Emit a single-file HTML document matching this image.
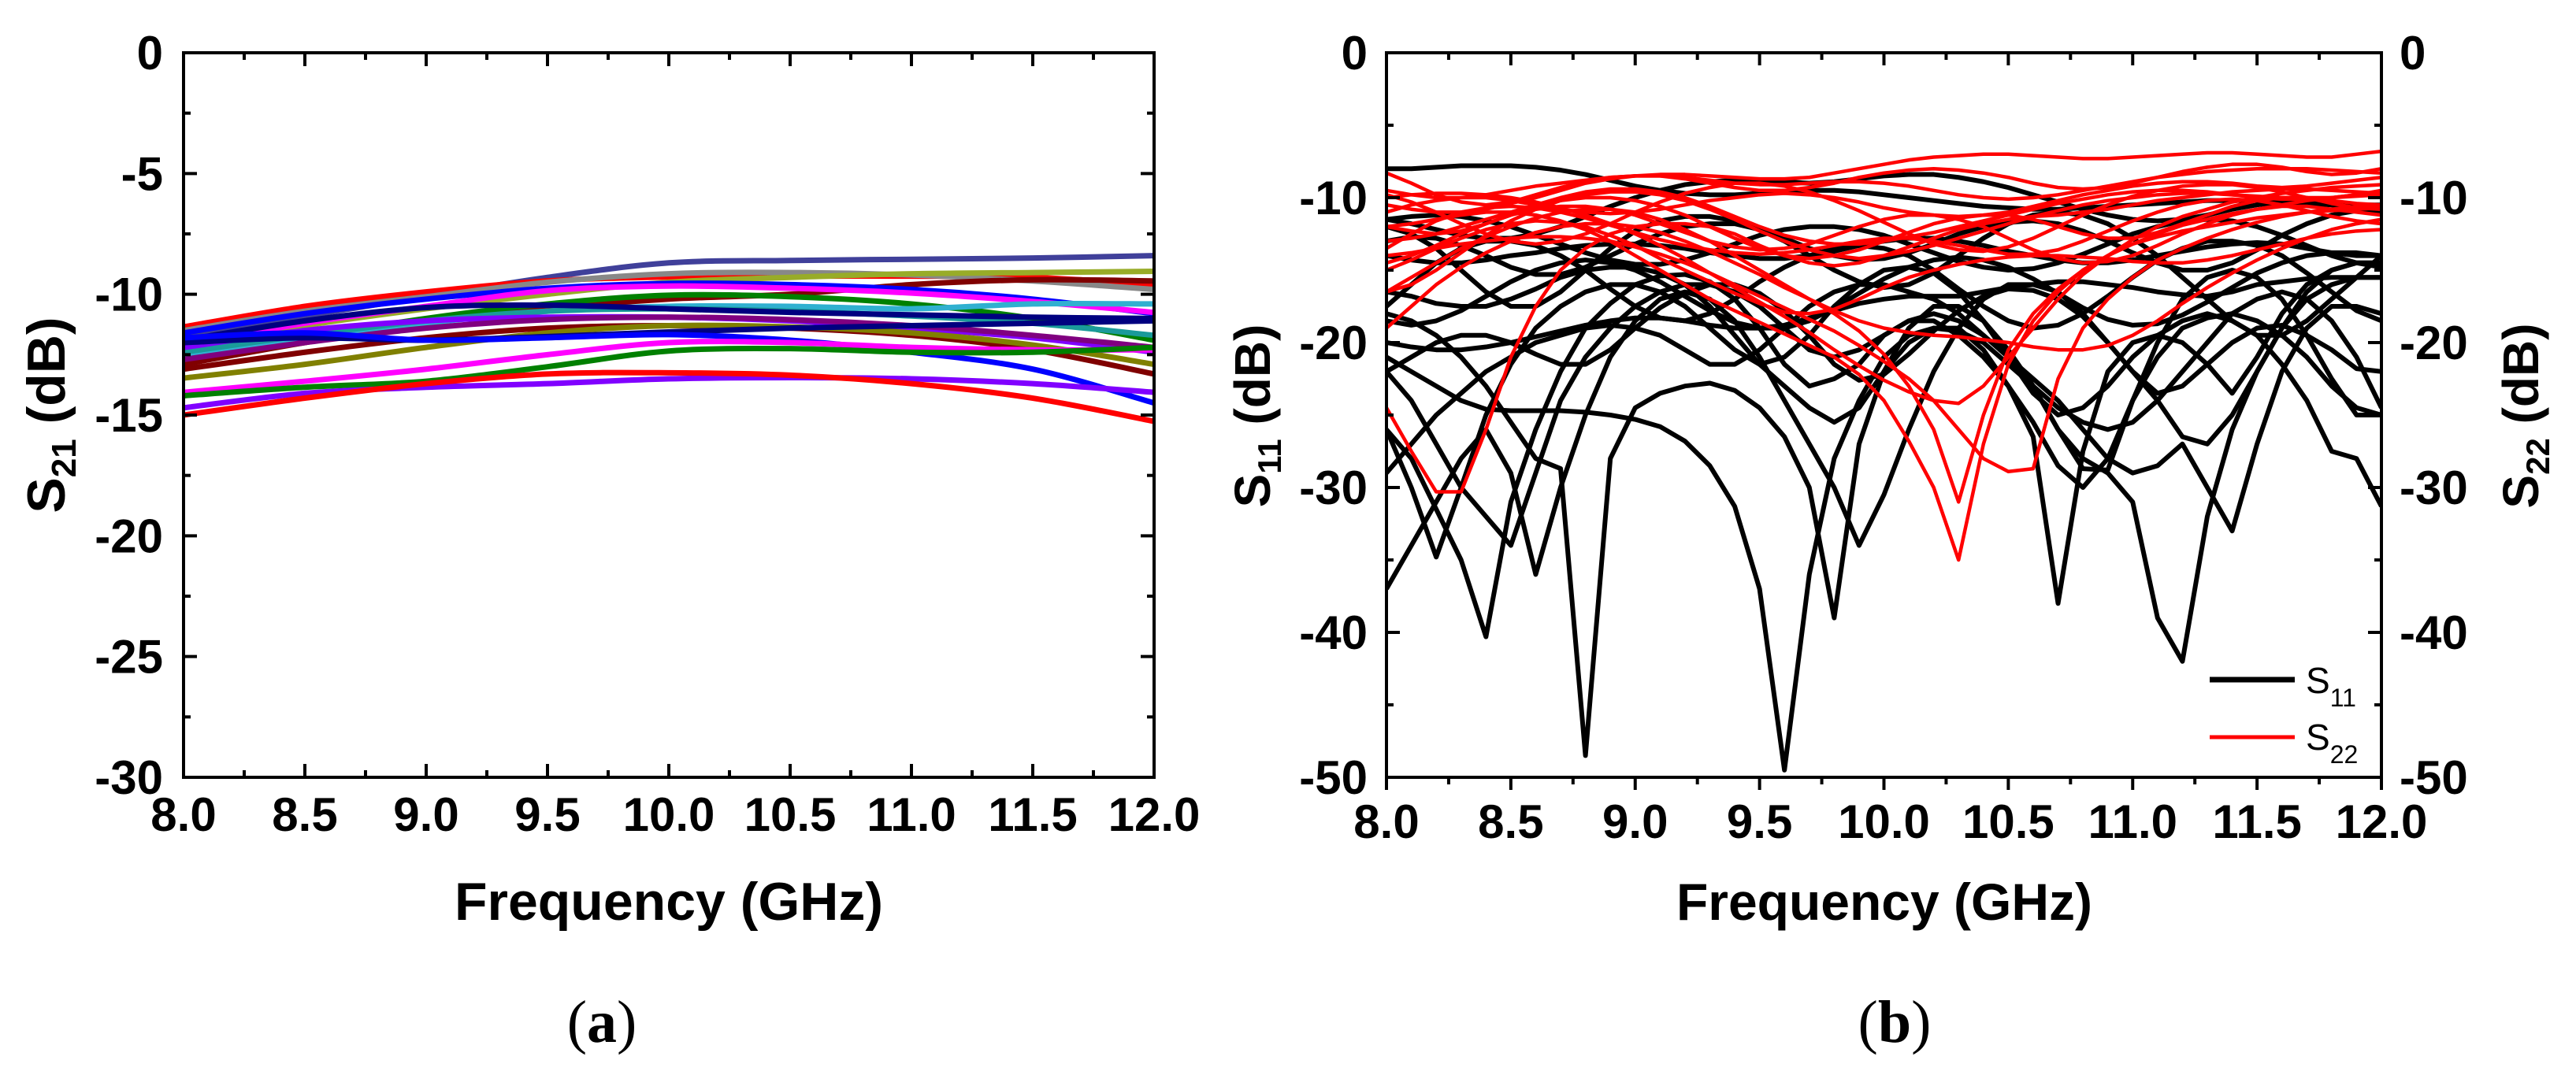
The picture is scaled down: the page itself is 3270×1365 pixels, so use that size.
<!DOCTYPE html>
<html><head><meta charset="utf-8"><style>
html,body{margin:0;padding:0;background:#fff;}
svg{display:block;}
text{font-family:"Liberation Sans",Arial,sans-serif;}
</style></head>
<body>
<svg id="fig" width="3270" height="1365" viewBox="0 0 3270 1365" xmlns="http://www.w3.org/2000/svg">
<g id="plotA"></g>
<g id="plotB"></g>
<text x="764" y="1323" text-anchor="middle" font-size="76" style="font-family:'Liberation Serif',serif">(<tspan font-weight="bold">a</tspan>)</text>
<text x="2405" y="1323" text-anchor="middle" font-size="76" style="font-family:'Liberation Serif',serif">(<tspan font-weight="bold">b</tspan>)</text>
</svg>
<script>
// ---------- Panel (a) data ----------
const freqA = [8.0, 8.5, 9.0, 9.5, 10.0, 10.5, 11.0, 11.5, 12.0];
const s21SlateBlue = [-11.7, -10.9, -10.1, -9.3, -8.7, -8.6, -8.55, -8.5, -8.4];
const s21RedTop = [-11.35, -10.5, -9.9, -9.45, -9.28, -9.25, -9.25, -9.3, -9.6];
const s21Gray = [-11.5, -10.7, -10.1, -9.5, -9.15, -9.1, -9.2, -9.45, -9.8];
const s21YellowOlive = [-12.2, -11.3, -10.6, -10.0, -9.5, -9.3, -9.15, -9.1, -9.05];
const s21DarkRedTop = [-12.9, -12.0, -11.2, -10.6, -10.2, -10.0, -9.6, -9.4, -9.45];
const s21BlueTop = [-11.6, -10.8, -10.2, -9.75, -9.55, -9.6, -9.8, -10.2, -10.8];
const s21MagentaTop = [-12.16, -11.2, -10.5, -9.85, -9.66, -9.75, -9.95, -10.3, -10.75];
const s21GreenTop = [-12.6, -11.8, -11.0, -10.4, -10.04, -10.1, -10.4, -11.0, -11.9];
const s21Cyan = [-12.5, -11.8, -11.2, -10.7, -10.5, -10.5, -10.6, -10.4, -10.4];
const s21Teal = [-12.4, -11.7, -11.1, -10.7, -10.6, -10.7, -10.9, -11.2, -11.7];
const s21NavyTop = [-11.9, -11.1, -10.55, -10.45, -10.6, -10.75, -10.85, -10.95, -11.0];
const s21Violet = [-12.2, -11.5, -11.1, -10.95, -10.95, -11.1, -11.4, -11.8, -12.4];
const s21Purple = [-12.7, -12.0, -11.4, -11.05, -10.95, -11.05, -11.3, -11.7, -12.2];
const s21DarkRed = [-13.1, -12.4, -11.8, -11.4, -11.3, -11.4, -11.7, -12.3, -13.3];
const s21Olive = [-13.47, -12.9, -12.2, -11.6, -11.3, -11.35, -11.6, -12.1, -12.9];
const s21NavyLow = [-12.0, -11.8, -11.9, -11.75, -11.56, -11.4, -11.3, -11.2, -11.1];
const s21BlueLow = [-11.8, -11.6, -11.9, -11.8, -11.67, -11.9, -12.4, -13.1, -14.5];
const s21MagentaLow = [-14.06, -13.6, -13.1, -12.5, -12.0, -12.0, -12.2, -12.3, -12.3];
const s21GreenLow = [-14.2, -13.85, -13.6, -13.0, -12.35, -12.25, -12.4, -12.4, -12.2];
const s21PurpleLow = [-14.7, -14.1, -13.85, -13.7, -13.5, -13.45, -13.5, -13.7, -14.06];
const s21RedLow = [-15.0, -14.3, -13.7, -13.3, -13.25, -13.35, -13.7, -14.3, -15.26];
const seriesA = [s21SlateBlue, s21RedTop, s21Gray, s21YellowOlive, s21DarkRedTop, s21BlueTop, s21MagentaTop, s21GreenTop, s21Cyan, s21Teal, s21NavyTop, s21Violet, s21Purple, s21DarkRed, s21Olive, s21NavyLow, s21BlueLow, s21MagentaLow, s21GreenLow, s21PurpleLow, s21RedLow];
const colorsA = ["#40409a", "#ff0000", "#888888", "#98ac28", "#800000", "#0000ff", "#ff00ff", "#008000", "#30b0d0", "#1a9a9a", "#000080", "#8000ff", "#800080", "#800000", "#808000", "#000080", "#0000ff", "#ff00ff", "#008000", "#8000ff", "#ff0000"];
const xTicksA = ["8.0", "8.5", "9.0", "9.5", "10.0", "10.5", "11.0", "11.5", "12.0"];
const yTicksA = ["0", "-5", "-10", "-15", "-20", "-25", "-30"];

// ---------- Panel (b) data ----------
const freqB = [8.0,8.1,8.2,8.3,8.4,8.5,8.6,8.7,8.8,8.9,9.0,9.1,9.2,9.3,9.4,9.5,9.6,9.7,9.8,9.9,10.0,10.1,10.2,10.3,10.4,10.5,10.6,10.7,10.8,10.9,11.0,11.1,11.2,11.3,11.4,11.5,11.6,11.7,11.8,11.9,12.0];
const s11a = [-8,-8,-7.9,-7.8,-7.8,-7.8,-7.9,-8.1,-8.4,-8.8,-9.2,-9.5,-9.7,-9.8,-9.8,-9.7,-9.6,-9.5,-9.5,-9.6,-9.8,-10,-10.2,-10.4,-10.6,-10.7,-10.8,-10.8,-10.7,-10.6,-10.5,-10.4,-10.3,-10.2,-10.2,-10.2,-10.3,-10.4,-10.5,-10.5,-10.5];
const s11b = [-11.5,-11.8,-12.2,-12.6,-12.8,-12.8,-12.5,-12,-11.3,-10.6,-10,-9.5,-9.1,-8.9,-8.8,-8.8,-8.9,-9,-8.9,-8.7,-8.5,-8.4,-8.4,-8.6,-8.9,-9.3,-9.8,-10.3,-10.8,-11.2,-11.5,-11.6,-11.5,-11.2,-10.8,-10.5,-10.3,-10.3,-10.5,-10.8,-11];
const s11c = [-21,-22,-23,-24,-24.6,-24.7,-24.7,-24.7,-24.8,-25,-25.3,-25.8,-26.8,-28.5,-31.3,-37,-49.5,-36,-28,-24,-21,-19.5,-19,-19.2,-20,-21.5,-23,-24.5,-25.5,-26,-25.5,-24,-22,-20,-18,-17,-16.5,-17,-18.5,-21,-24.5];
const s11d = [-18,-18.5,-19.5,-21,-23,-25.5,-28,-28.7,-48.5,-28,-24.5,-23.5,-23,-22.8,-23.3,-24.5,-26.5,-30,-39,-27,-22,-19,-17.5,-17.5,-18.5,-20.5,-23,-26,-28.7,-28.8,-24,-20,-17,-15.5,-15,-15.5,-17,-19.5,-22.5,-25,-25];
const s11e = [-26,-28,-31.5,-35,-40.3,-31,-26,-22,-19,-17.3,-16,-15.4,-15.3,-15.8,-17,-19,-21.5,-23,-22.5,-21.5,-19.5,-18.5,-18.5,-19.5,-21,-23,-25.5,-28.5,-30,-28,-24,-21,-19,-18.3,-18,-18.5,-19.5,-21,-23,-24.5,-25];
const s11f = [-26,-30,-34.8,-30,-25,-21.5,-19,-17.5,-16.5,-16,-16,-16.5,-17.5,-19,-20.5,-21.5,-21,-19.5,-17.5,-16,-15,-14.8,-15.2,-16.5,-18.5,-21,-23.5,-25,-24.5,-23,-21,-19.5,-18.5,-18,-18.5,-19.5,-21.5,-24,-27.5,-28,-31.3];
const s11g = [-37,-34,-31,-28,-26,-29,-36,-30,-25,-21,-18.5,-17,-16.5,-17,-18.5,-21,-24,-27,-30,-34,-30.5,-26,-22,-19,-17,-16,-16,-16.5,-18,-20,-22,-24,-26.5,-27,-25,-22,-19,-16.5,-15,-14.5,-14.5];
const s11h = [-16.5,-16.8,-17.3,-17.5,-17.5,-17,-16.3,-15.5,-15,-14.8,-14.8,-15.2,-16,-17.5,-19.5,-21.5,-23,-24.5,-25.5,-24.5,-22,-20,-19,-19,-20.5,-23,-26.5,-38,-27.5,-22,-20,-19.5,-20,-21.5,-23.5,-21,-18,-16,-15,-14.5,-14.5];
const s11i = [-22,-24,-27,-30,-32,-34,-29,-24,-21,-19,-17.5,-16.5,-16,-16,-16.5,-17.5,-19,-20.5,-21,-20.5,-19.5,-18.5,-18,-18.5,-19.5,-21,-23,-26,-28,-29,-31,-39,-42,-32,-26,-22,-19,-17,-16,-15.5,-15.5];
const s11j = [-29,-27,-25,-23.5,-22,-21,-20,-19.5,-19,-18.8,-19,-19.5,-20.5,-21.5,-21.5,-20.5,-19,-17.5,-16.5,-16,-16,-16.5,-17,-18,-19.5,-21,-22.5,-24,-26,-28,-29,-28.5,-27,-30,-33,-27,-22,-19,-17.5,-17.5,-18];
const s11k = [-14,-14.3,-14.5,-14.5,-14.3,-14,-13.8,-13.5,-13.3,-13.2,-13.2,-13.3,-13.5,-13.8,-14,-14.2,-14.2,-14,-13.7,-13.3,-13,-12.8,-12.8,-13,-13.3,-13.7,-14,-14.3,-14.5,-14.5,-14.3,-14,-13.7,-13.4,-13.2,-13.1,-13.2,-13.5,-13.8,-14,-14];
const s11l = [-20,-20.3,-20.5,-20.5,-20.3,-20,-19.6,-19.2,-18.8,-18.5,-18.3,-18.3,-18.5,-18.8,-19,-19,-18.8,-18.3,-17.8,-17.3,-17,-16.8,-16.8,-16.8,-16.5,-16.2,-16,-15.8,-15.8,-16,-16.2,-16.5,-16.7,-16.8,-16.5,-16,-15.8,-15.6,-15.5,-15.5,-15.5];
const s11m = [-12,-12.5,-13.5,-15,-16.5,-17.5,-17.5,-16.5,-15,-13.5,-12.3,-11.6,-11.3,-11.3,-11.6,-12.2,-13,-14,-15,-15.8,-16.2,-16,-15.2,-14,-12.8,-11.8,-11.2,-11,-11.2,-11.8,-12.8,-14,-15.5,-17,-18.5,-19.5,-19.5,-18.5,-17,-15.5,-14];
const s11n = [-17.5,-16,-14.5,-13.5,-13,-13,-13.3,-14,-15,-16.3,-17.5,-18.3,-18.5,-18,-17,-15.8,-14.8,-14,-13.5,-13.3,-13.5,-14,-15,-16.3,-17.5,-18.5,-19,-18.8,-18,-16.8,-15.5,-14.3,-13.5,-13,-13,-13.3,-14,-15.2,-16.5,-17.8,-18.5];
const s11o = [-13,-12.7,-12.8,-13.3,-14,-14.8,-15.3,-15.3,-14.8,-14,-13.2,-12.5,-12,-11.8,-11.8,-12.2,-12.8,-13.5,-14,-14.3,-14.2,-13.8,-13.2,-12.5,-12,-11.7,-11.6,-11.8,-12.3,-13,-13.8,-14.5,-15,-15,-14.5,-13.6,-12.6,-11.8,-11.2,-10.9,-10.8];
const s11p = [-11.5,-11.3,-11.2,-11.3,-11.6,-12,-12.6,-13.2,-13.8,-14.3,-14.6,-14.6,-14.3,-13.8,-13.2,-12.6,-12.2,-12,-12,-12.2,-12.6,-13.2,-13.8,-14.4,-14.8,-15,-14.9,-14.5,-13.9,-13.2,-12.5,-12,-11.6,-11.5,-11.6,-12,-12.6,-13.3,-14,-14.5,-14.8];
const s11q = [-18.5,-18.8,-18.5,-17.8,-16.8,-15.8,-15,-14.5,-14.3,-14.5,-15,-15.8,-16.8,-17.8,-18.6,-19,-19,-18.5,-17.6,-16.6,-15.6,-14.8,-14.3,-14.1,-14.3,-14.8,-15.6,-16.6,-17.6,-18.4,-18.8,-18.7,-18.1,-17.2,-16.2,-15.2,-14.5,-14,-13.8,-13.8,-14];
const s11r = [-22,-21,-20,-19.5,-19.5,-20,-20.8,-21.5,-21.5,-20.5,-19,-17.6,-16.6,-16,-16,-16.6,-17.8,-19.5,-21.5,-22.6,-22.2,-20.8,-19.2,-17.8,-16.8,-16.3,-16.4,-17,-18.2,-20,-22,-23.5,-23,-21.5,-20,-19,-18.8,-19.5,-20.5,-21.8,-22];
const s22a = [-24.5,-27.5,-30.3,-30.3,-26,-21,-17.5,-15,-13.5,-12.5,-12,-11.8,-11.8,-12,-12.5,-13.3,-14,-14.5,-14.7,-14.5,-14,-13.4,-12.8,-12.2,-11.8,-11.5,-11.3,-11.2,-11,-10.8,-10.5,-10.2,-10,-9.8,-9.6,-9.5,-9.4,-9.4,-9.5,-9.6,-9.7];
const s22b = [-12,-11.8,-11.5,-11.2,-11,-11,-11.2,-11.6,-12.2,-13,-14,-15,-16,-17,-17.8,-18.6,-19.4,-20.2,-21,-22.2,-24,-26.8,-30,-35,-27,-21.5,-18.5,-16.5,-15,-14,-13.2,-12.7,-12.3,-12,-11.7,-11.4,-11.2,-11,-10.9,-10.8,-10.7];
const s22c = [-16.5,-15.5,-14.5,-13.5,-12.7,-12,-11.4,-11,-10.8,-10.8,-11,-11.5,-12.2,-13,-14,-15,-16,-17,-18,-19.2,-20.8,-23,-26,-31,-25,-20.5,-18,-16.3,-15,-14,-13.2,-12.5,-11.9,-11.5,-11.1,-10.8,-10.5,-10.2,-10,-9.8,-9.6];
const s22d = [-14,-13.8,-13.5,-13.2,-13,-12.8,-12.7,-12.7,-12.8,-13,-13.4,-13.9,-14.5,-15.2,-16,-16.8,-17.6,-18.4,-19.2,-20.2,-21.3,-22.5,-24,-26,-28,-28.9,-28.7,-22.5,-19,-17,-15.5,-14.3,-13.5,-12.8,-12.2,-11.7,-11.3,-11,-10.8,-10.6,-10.5];
const s22e = [-10,-9.8,-9.7,-9.7,-9.8,-10,-10.3,-10.7,-11.2,-11.8,-12.5,-13.3,-14.2,-15.2,-16.2,-17.2,-18.2,-19.3,-20.5,-21.6,-22.6,-23.4,-24,-24.2,-23,-21,-19,-17,-15.3,-14,-12.9,-12,-11.3,-10.8,-10.3,-10,-9.7,-9.5,-9.3,-9.2,-9.1];
const s22f = [-19,-17.5,-16,-14.8,-13.8,-13,-12.4,-12,-11.8,-11.8,-12,-12.4,-13,-13.7,-14.5,-15.3,-16.2,-17,-17.8,-18.5,-19,-19.3,-19.5,-19.6,-19.8,-20,-20.3,-20.5,-20.5,-20.2,-19.5,-18.5,-17.3,-16.2,-15.2,-14.3,-13.5,-12.8,-12.2,-11.8,-11.5];
const s22g = [-10.5,-10.8,-11,-11,-10.8,-10.4,-10,-9.5,-9,-8.7,-8.5,-8.4,-8.4,-8.5,-8.6,-8.7,-8.7,-8.6,-8.3,-8,-7.7,-7.4,-7.2,-7.1,-7,-7,-7.1,-7.2,-7.3,-7.3,-7.2,-7.1,-7,-6.9,-6.9,-7,-7.1,-7.2,-7.2,-7,-6.8];
const s22h = [-8.3,-9,-9.8,-10.3,-10.5,-10.3,-9.8,-9.3,-8.9,-8.6,-8.5,-8.5,-8.7,-9,-9.3,-9.5,-9.5,-9.3,-9,-8.6,-8.3,-8.1,-8,-8.1,-8.3,-8.6,-9,-9.3,-9.4,-9.3,-9,-8.6,-8.2,-7.9,-7.7,-7.7,-7.9,-8.2,-8.4,-8.3,-8];
const s22i = [-15,-14.3,-13.5,-12.8,-12.2,-11.8,-11.6,-11.7,-12,-12.6,-13.3,-14.2,-15,-15.8,-16.6,-17.3,-17.9,-18,-17.7,-17,-16.2,-15.5,-15,-14.6,-14.3,-14.1,-14,-14,-14.1,-14.2,-14.4,-14.5,-14.5,-14.3,-14,-13.6,-13.2,-12.8,-12.5,-12.3,-12.2];
const s22j = [-12,-12.3,-12.5,-12.3,-11.8,-11.2,-10.5,-10,-9.6,-9.4,-9.4,-9.6,-10,-10.6,-11.3,-12,-12.6,-13,-13.2,-13.2,-13,-12.7,-12.4,-12,-11.6,-11.2,-10.8,-10.4,-10.1,-9.8,-9.6,-9.5,-9.5,-9.6,-9.8,-10,-10.1,-10.1,-10,-9.8,-9.5];
const s22k = [-13.5,-12.5,-11.6,-11,-10.7,-10.6,-10.7,-11,-11.4,-11.9,-12.4,-12.9,-13.3,-13.6,-13.8,-13.9,-13.8,-13.6,-13.3,-13,-12.8,-12.8,-13,-13.3,-13.6,-13.9,-13.9,-13.6,-13,-12.3,-11.6,-11,-10.5,-10.2,-10.1,-10.2,-10.5,-10.9,-11.3,-11.6,-11.8];
const s22l = [-9.8,-10.3,-11,-11.8,-12.5,-13,-13.2,-13,-12.5,-11.8,-11,-10.3,-9.7,-9.3,-9,-9,-9.2,-9.6,-10.2,-10.9,-11.7,-12.5,-13.2,-13.6,-13.7,-13.4,-12.8,-12,-11.2,-10.5,-9.9,-9.5,-9.2,-9.1,-9.1,-9.3,-9.6,-10,-10.4,-10.7,-10.8];
const s22m = [-9.5,-9.8,-10,-10,-9.8,-9.5,-9.2,-9,-8.8,-8.6,-8.5,-8.5,-8.6,-8.8,-9,-9.1,-9.1,-9,-8.9,-8.9,-9,-9.2,-9.5,-9.8,-10,-10.1,-10,-9.8,-9.5,-9.2,-8.9,-8.6,-8.4,-8.2,-8.1,-8,-8,-8,-8.1,-8.2,-8.3];
const s22n = [-11,-10.5,-10.2,-10,-10,-10.2,-10.5,-10.8,-11,-11.1,-11,-10.8,-10.5,-10.2,-10,-9.8,-9.7,-9.8,-10,-10.3,-10.7,-11,-11.2,-11.3,-11.2,-11,-10.6,-10.2,-9.8,-9.5,-9.2,-9,-8.9,-8.9,-9,-9.2,-9.3,-9.2,-9,-8.8,-8.6];
const s22o = [-13,-12.8,-12.5,-12,-11.5,-11,-10.5,-10.2,-10,-10,-10.2,-10.6,-11.2,-12,-12.8,-13.5,-14,-14.2,-14,-13.6,-13,-12.4,-11.8,-11.4,-11.2,-11.2,-11.5,-12,-12.5,-12.8,-12.8,-12.4,-11.8,-11.2,-10.6,-10.2,-10,-10,-10.2,-10.4,-10.5];
const s22p = [-14.5,-14,-13.3,-12.5,-11.8,-11.2,-10.8,-10.6,-10.6,-10.8,-11.2,-11.8,-12.4,-13,-13.4,-13.6,-13.5,-13.2,-12.6,-12,-11.5,-11.2,-11.2,-11.5,-12,-12.8,-13.6,-14.2,-14.5,-14.4,-14,-13.3,-12.5,-11.8,-11.2,-10.8,-10.6,-10.6,-10.8,-11,-11.2];
const s22q = [-16.5,-16,-15,-13.8,-12.6,-11.6,-10.8,-10.2,-9.8,-9.6,-9.6,-9.8,-10.2,-10.8,-11.5,-12.3,-13,-13.6,-14,-14.2,-14,-13.7,-13.3,-12.8,-12.3,-11.8,-11.3,-10.9,-10.5,-10.2,-10,-9.8,-9.7,-9.7,-9.8,-9.9,-10,-10,-10,-9.9,-9.8];
const seriesS11 = [s11a, s11b, s11c, s11d, s11e, s11f, s11g, s11h, s11i, s11j, s11k, s11l, s11m, s11n, s11o, s11p, s11q, s11r];
const seriesS22 = [s22a, s22b, s22c, s22d, s22e, s22f, s22g, s22h, s22i, s22j, s22k, s22l, s22m, s22n, s22o, s22p, s22q];
const xTicksB = ["8.0", "8.5", "9.0", "9.5", "10.0", "10.5", "11.0", "11.5", "12.0"];
const yTicksB = ["0", "-10", "-20", "-30", "-40", "-50"];

const NS = "http://www.w3.org/2000/svg";
function mk(parent, tag, attrs, txt) {
  const e = document.createElementNS(NS, tag);
  for (const k in attrs) e.setAttribute(k, attrs[k]);
  if (txt !== undefined) e.textContent = txt;
  parent.appendChild(e);
  return e;
}

// ---------- Panel A ----------
(function () {
  const g = document.getElementById('plotA');
  const L = 233, R = 1465, T = 67, B = 987;
  const xA = v => L + (v - 8) / 4 * (R - L);
  const yA = v => T + (0 - v) / 30 * (B - T);
  seriesA.forEach((s, i) => {
    const pts = s.map((v, j) => [xA(freqA[j]), yA(v)]);
    let d = `M${pts[0][0]},${pts[0][1]}`;
    for (let j = 0; j < pts.length - 1; j++) {
      const p0 = pts[Math.max(0, j - 1)], p1 = pts[j], p2 = pts[j + 1], p3 = pts[Math.min(pts.length - 1, j + 2)];
      const c1 = [p1[0] + (p2[0] - p0[0]) / 6, p1[1] + (p2[1] - p0[1]) / 6];
      const c2 = [p2[0] - (p3[0] - p1[0]) / 6, p2[1] - (p3[1] - p1[1]) / 6];
      d += ` C${c1[0]},${c1[1]} ${c2[0]},${c2[1]} ${p2[0]},${p2[1]}`;
    }
    const p = mk(g, 'path', { d: d, fill: 'none', stroke: colorsA[i], 'stroke-width': 7 });
    
    
  });
  const fr = mk(g, 'rect', { x: L, y: T, width: R - L, height: B - T, fill: 'none', stroke: '#000', 'stroke-width': 4 });
  
  
  for (let k = 0; k <= 16; k++) {
    const v = 8 + k * 0.25, x = xA(v), len = k % 2 === 0 ? 17 : 9;
    mk(g, 'line', { x1: x, y1: B, x2: x, y2: B - len, stroke: '#000', 'stroke-width': 4 });
    mk(g, 'line', { x1: x, y1: T, x2: x, y2: T + len, stroke: '#000', 'stroke-width': 4 });
  }
  xTicksA.forEach(lbl => {
    const t = mk(g, 'text', { x: xA(parseFloat(lbl)), y: 1055, 'text-anchor': 'middle', 'font-size': 60, 'font-weight': 'bold' }, lbl);
    
    
  });
  for (let k = 0; k <= 12; k++) {
    const v = -k * 2.5, y = yA(v), len = k % 2 === 0 ? 17 : 9;
    mk(g, 'line', { x1: L, y1: y, x2: L + len, y2: y, stroke: '#000', 'stroke-width': 4 });
    mk(g, 'line', { x1: R, y1: y, x2: R - len, y2: y, stroke: '#000', 'stroke-width': 4 });
  }
  yTicksA.forEach(lbl => {
    const t = mk(g, 'text', { x: 207, y: yA(parseFloat(lbl)) + 21, 'text-anchor': 'end', 'font-size': 60, 'font-weight': 'bold' }, lbl);
    
    
  });
  const xt = mk(g, 'text', { x: 849, y: 1168, 'text-anchor': 'middle', 'font-size': 68, 'font-weight': 'bold' }, 'Frequency (GHz)');
  
  
  const yt = mk(g, 'text', { transform: 'translate(82,527) rotate(-90)', 'text-anchor': 'middle', 'font-size': 68, 'font-weight': 'bold' });
  yt.innerHTML = 'S<tspan font-size="44" dy="14">21</tspan><tspan dy="-14"> (dB)</tspan>';
  
  
})();

// ---------- Panel B ----------
(function () {
  const g = document.getElementById('plotB');
  const L = 1760, R = 3023, T = 67, B = 987;
  const xB = v => L + (v - 8) / 4 * (R - L);
  const yB = v => T + (0 - v) / 50 * (B - T);
  const clip = mk(g, 'clipPath', { id: 'clipB' });
  mk(clip, 'rect', { x: L, y: T, width: R - L, height: B - T });
  const lines = mk(g, 'g', { 'clip-path': 'url(#clipB)' });
  seriesS11.forEach((s, i) => {
    const p = mk(lines, 'polyline', { points: s.map((v, j) => xB(freqB[j]) + ',' + yB(v)).join(' '), fill: 'none', stroke: '#000', 'stroke-width': 6, 'stroke-linejoin': 'round' });
    
    
  });
  seriesS22.forEach((s, i) => {
    const p = mk(lines, 'polyline', { points: s.map((v, j) => xB(freqB[j]) + ',' + yB(v)).join(' '), fill: 'none', stroke: '#ff0000', 'stroke-width': 4.5, 'stroke-linejoin': 'round' });
    
    
  });
  const fr = mk(g, 'rect', { x: L, y: T, width: R - L, height: B - T, fill: 'none', stroke: '#000', 'stroke-width': 4 });
  
  
  for (let k = 0; k <= 16; k++) {
    const v = 8 + k * 0.25, x = xB(v), len = k % 2 === 0 ? 16 : 9;
    mk(g, 'line', { x1: x, y1: B, x2: x, y2: B + len, stroke: '#000', 'stroke-width': 4 });
    mk(g, 'line', { x1: x, y1: T, x2: x, y2: T + len, stroke: '#000', 'stroke-width': 4 });
  }
  xTicksB.forEach(lbl => {
    const t = mk(g, 'text', { x: xB(parseFloat(lbl)), y: 1064, 'text-anchor': 'middle', 'font-size': 60, 'font-weight': 'bold' }, lbl);
    
    
  });
  for (let k = 0; k <= 10; k++) {
    const v = -k * 5, y = yB(v), len = k % 2 === 0 ? 17 : 9;
    mk(g, 'line', { x1: L, y1: y, x2: L + len, y2: y, stroke: '#000', 'stroke-width': 4 });
    mk(g, 'line', { x1: R, y1: y, x2: R - len, y2: y, stroke: '#000', 'stroke-width': 4 });
  }
  yTicksB.forEach(lbl => {
    const y = yB(parseFloat(lbl)) + 21;
    const t1 = mk(g, 'text', { x: 1736, y: y, 'text-anchor': 'end', 'font-size': 60, 'font-weight': 'bold' }, lbl);
    
    
    const t2 = mk(g, 'text', { x: 3046, y: y, 'text-anchor': 'start', 'font-size': 60, 'font-weight': 'bold' }, lbl);
    
    
  });
  const xt = mk(g, 'text', { x: 2392, y: 1168, 'text-anchor': 'middle', 'font-size': 66, 'font-weight': 'bold' }, 'Frequency (GHz)');
  
  
  const yl = mk(g, 'text', { transform: 'translate(1612,528) rotate(-90)', 'text-anchor': 'middle', 'font-size': 64, 'font-weight': 'bold' });
  yl.innerHTML = 'S<tspan font-size="42" dy="14">11</tspan><tspan dy="-14"> (dB)</tspan>';
  
  
  const yr = mk(g, 'text', { transform: 'translate(3222,528) rotate(-90)', 'text-anchor': 'middle', 'font-size': 64, 'font-weight': 'bold' });
  yr.innerHTML = 'S<tspan font-size="42" dy="14">22</tspan><tspan dy="-14"> (dB)</tspan>';
  
  
  const lg = mk(g, 'g', {});
  
  
  const l1 = mk(lg, 'line', { x1: 2805, y1: 863, x2: 2913, y2: 863, stroke: '#000', 'stroke-width': 7 });
  
  
  const t1 = mk(lg, 'text', { x: 2927, y: 880, 'font-size': 46 });
  t1.innerHTML = 'S<tspan font-size="32" dy="17">11</tspan>';
  
  
  const l2 = mk(lg, 'line', { x1: 2805, y1: 936, x2: 2913, y2: 936, stroke: '#ff0000', 'stroke-width': 5 });
  
  
  const t2 = mk(lg, 'text', { x: 2927, y: 952, 'font-size': 46 });
  t2.innerHTML = 'S<tspan font-size="32" dy="17">22</tspan>';
  
  
})();
</script>
</body></html>
